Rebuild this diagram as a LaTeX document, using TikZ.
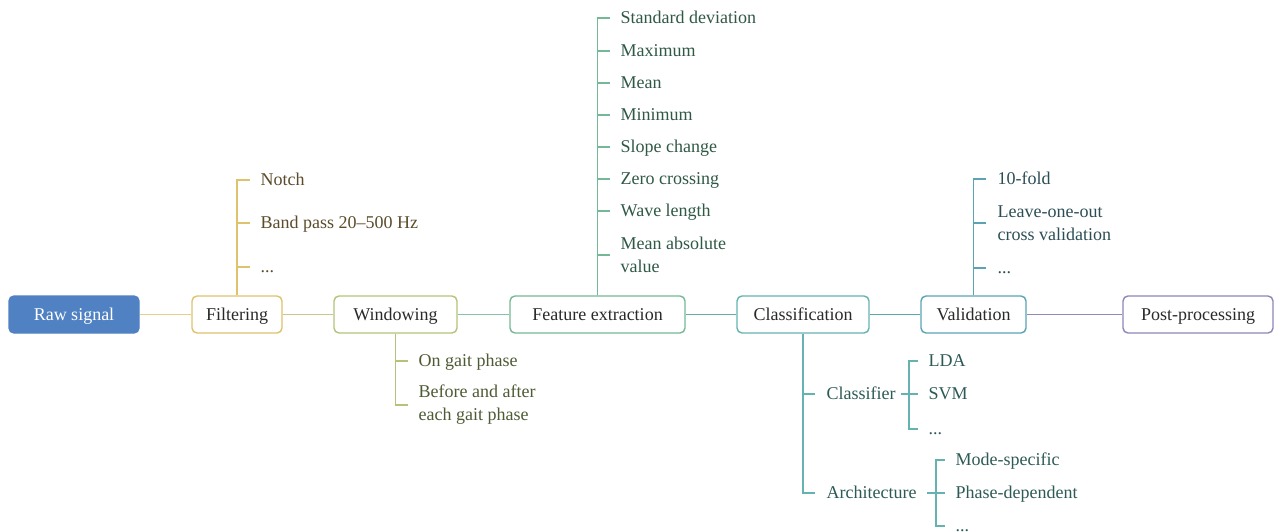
\documentclass[tikz,border=0pt]{standalone}
\usepackage{fontspec}
\setmainfont{Liberation Serif}
\definecolor{rawblue}{HTML}{4F81C3}
\definecolor{boxtext}{HTML}{2A2A2A}
\definecolor{cfilt}{HTML}{DFC26E}
\definecolor{lrawfilt}{HTML}{E5D08A}
\definecolor{lfiltwin}{HTML}{C9C88A}
\definecolor{cwin}{HTML}{B3C479}
\definecolor{lwinfeat}{HTML}{86C3A6}
\definecolor{cfeat}{HTML}{74B995}
\definecolor{lfeatcls}{HTML}{62AFA8}
\definecolor{ccls}{HTML}{64B3B1}
\definecolor{lclsval}{HTML}{5AA8AE}
\definecolor{cval}{HTML}{5AA4B4}
\definecolor{lvalpost}{HTML}{8F8BB5}
\definecolor{cpost}{HTML}{8E86B8}
\definecolor{tfilt}{HTML}{5B4B2A}
\definecolor{twin}{HTML}{4D5A34}
\definecolor{tfeat}{HTML}{2F5845}
\definecolor{tcls}{HTML}{2D5A55}
\definecolor{tval}{HTML}{2B4E55}
\begin{document}
\begin{tikzpicture}[x=1pt,y=-1pt, line width=1.4pt,
  box/.style={draw, rounded corners=5pt, minimum height=37pt, inner sep=0pt, fill=white, text=boxtext, text height=14pt, text depth=2pt, font=\fontsize{18}{23}\selectfont},
  leaf/.style={anchor=west, inner xsep=10pt, inner ysep=0pt, text height=13.5pt, text depth=2.5pt, font=\fontsize{18}{23}\selectfont},
  leaftwo/.style={anchor=west, inner xsep=10pt, inner ysep=0pt, align=left, font=\fontsize{18}{23}\selectfont},
  mid/.style={anchor=west, inner xsep=5pt, inner ysep=0pt, text height=13.5pt, text depth=2.5pt, font=\fontsize{18}{23}\selectfont},
]
\useasboundingbox (0,0) rectangle (1274,532);
% main boxes
\node[box, fill=rawblue, draw=rawblue, text=white, minimum width=130pt] (raw) at (74,314.5) {Raw signal};
\node[box, draw=cfilt, minimum width=90pt] (filt) at (237,314.5) {Filtering};
\node[box, draw=cwin, minimum width=123pt] (win) at (395.5,314.5) {Windowing};
\node[box, draw=cfeat, minimum width=175pt] (feat) at (597.5,314.5) {Feature extraction};
\node[box, draw=ccls, minimum width=132pt] (cls) at (803,314.5) {Classification};
\node[box, draw=cval, minimum width=105pt] (val) at (973.5,314.5) {Validation};
\node[box, draw=cpost, minimum width=150pt] (post) at (1198,314.5) {Post-processing};
% main connectors
\draw[lrawfilt] (raw) -- (filt);
\draw[lfiltwin] (filt) -- (win);
\draw[lwinfeat] (win) -- (feat);
\draw[lfeatcls] (feat) -- (cls);
\draw[lclsval] (cls) -- (val);
\draw[lvalpost] (val) -- (post);
% filtering
\node[leaf, text=tfilt] (f1) at (250,180) {Notch};
\node[leaf, text=tfilt] (f2) at (250,223) {Band pass 20--500 Hz};
\node[leaf, text=tfilt] (f3) at (250,267) {...};
\foreach \n in {f1,f2,f3} \draw[cfilt] (filt.north) |- (\n.west);
% windowing
\node[leaf, text=twin] (w1) at (408,361) {On gait phase};
\node[leaftwo, text=twin] (w2) at (408,405) {Before and after\\each gait phase};
\foreach \n in {w1,w2} \draw[cwin] (win.south) |- (\n.west);
% feature extraction
\node[leaf, text=tfeat] (e1) at (610,18) {Standard deviation};
\node[leaf, text=tfeat] (e2) at (610,51) {Maximum};
\node[leaf, text=tfeat] (e3) at (610,83) {Mean};
\node[leaf, text=tfeat] (e4) at (610,115) {Minimum};
\node[leaf, text=tfeat] (e5) at (610,147) {Slope change};
\node[leaf, text=tfeat] (e6) at (610,179) {Zero crossing};
\node[leaf, text=tfeat] (e7) at (610,211) {Wave length};
\node[leaftwo, text=tfeat] (e8) at (610,255) {Mean absolute\\value};
\foreach \n in {e1,e2,e3,e4,e5,e6,e7,e8} \draw[cfeat] (feat.north) |- (\n.west);
% classification
\node[mid, text=tcls] (c1) at (821,394) {Classifier};
\node[mid, text=tcls] (a1) at (821,493) {Architecture};
\draw[ccls] (cls.south) |- ([xshift=-6pt]c1.west);
\draw[ccls] (cls.south) |- ([xshift=-6pt]a1.west);
\node[leaf, text=tcls] (lda) at (918,361) {LDA};
\node[leaf, text=tcls] (svm) at (918,394) {SVM};
\node[leaf, text=tcls] (cdots) at (918,429) {...};
\coordinate (cj) at (909,394);
\draw[ccls] (c1.east) -- (svm.west);
\draw[ccls] (lda.west) -| (cj) |- (cdots.west);
\node[leaf, text=tcls] (m1) at (945,460) {Mode-specific};
\node[leaf, text=tcls] (m2) at (945,493) {Phase-dependent};
\node[leaf, text=tcls] (m3) at (945,526) {...};
\coordinate (aj) at (936,493);
\draw[ccls] ([xshift=5pt]a1.east) -- (m2.west);
\draw[ccls] (m1.west) -| (aj) |- (m3.west);
% validation
\node[leaf, text=tval, inner xsep=11pt] (v1) at (986,179) {10-fold};
\node[leaftwo, text=tval, inner xsep=11pt] (v2) at (986,223) {Leave-one-out\\cross validation};
\node[leaf, text=tval, inner xsep=11pt] (v3) at (986,268) {...};
\foreach \n in {v1,v2,v3} \draw[cval] (val.north) |- (\n.west);
\end{tikzpicture}
\end{document}
